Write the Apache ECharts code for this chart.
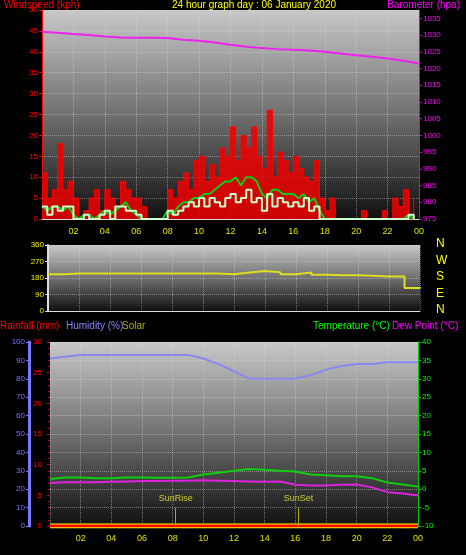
<!DOCTYPE html>
<html><head><meta charset="utf-8">
<script src="https://cdn.jsdelivr.net/npm/echarts@6/dist/echarts.min.js"></script>
<style>html,body{margin:0;background:#000}#c{width:466px;height:555px}</style>
</head><body><div id="c"></div>
<script>
// 20-minute samples for wind, hourly for the rest
const gust = [11,5,7, 18,7,9, 5,0,2, 5,7,2, 7,5,3, 9,7,5, 5,3,0, 0,0,0, 7,5,9, 11,7,14, 15,9,13, 10,17,15,
  22,14,20, 17,22,15, 12,26,10, 16,14,11, 15,12,10, 9,14,5, 2,5,0, 0,0,0, 0,2,0, 0,0,2, 0,5,3, 7,0,5];
const windAvg = [3,2,3, 3,2,3, 1,0,1, 1,0,1, 2,1,2, 3,4,2, 1,0,0, 0,0,0, 2,1,3, 4,4,5, 5,6,6, 7,8,9,
  9,10,8, 10,10,9, 6,5,7, 7,6,6, 6,5,6, 4,5,2, 0,0,0, 0,0,0, 0,0,0, 0,0,0, 0,0,0, 0,1,0];
const windSpd = [3,1,3, 2,3,3, 0,0,1, 0,0,1, 2,0,3, 3,2,2, 1,0,0, 0,0,0, 2,1,2, 3,4,3, 5,3,5, 4,3,5,
  6,4,5, 7,4,5, 2,6,3, 5,4,3, 4,3,5, 2,3,0, 0,0,0, 0,0,0, 0,0,0, 0,0,0, 0,0,0, 0,1,0];
const baro = [1031,1030.7,1030.3,1030,1029.6,1029.3,1029.2,1029.2,1029.1,1028.6,1028.3,1027.8,1027.1,
  1026.5,1026.1,1025.8,1025.6,1025.4,1025,1024.5,1024,1023.5,1023,1022.3,1021.5];
const windDir = [200,205,205,205,205,205,205,205,205,205,205,200,210,218,212,200,210,198,195,195,192,188,188,125,130];
const humidity = [91,92,93,93,93,93,93,93,93,93,91,88,84,80,80,80,80,82,85,87,88,88,89,89,89];
const temperature = [2.8,3.2,3.2,3,3,3.2,3.2,3.1,3.1,3.2,4,4.5,5,5.5,5.3,5,4.8,4,3.8,3.5,3.5,3,1.8,1.3,0.7];
const dewPoint = [1.7,1.9,1.9,1.9,2.0,2.1,2.2,2.2,2.3,2.3,2.4,2.3,2.2,2.1,2,2.1,1.2,1,1,1.2,1.3,0.5,-0.8,-1.2,-1.7];
const rainfall = [0,0,0,0,0,0,0,0,0,0,0,0,0,0,0,0,0,0,0,0,0,0,0,0,0];
const solar = [0,0,0,0,0,0,0,0,0,0,0,0,0,0,0,0,0,0,0,0,0,0,0,0,0];
const dirLetters = ['N','W','S','E','N'];

const pts20 = a => a.map((v, i) => [i / 3, v]);
const ptsH = a => a.map((v, i) => [i, v]);
const pad = v => { v = v % 24; return (v < 10 ? '0' : '') + v; };
const F = 'Liberation Sans';
const bg = {type: 'linear', x: 0, y: 0, x2: 0, y2: 1,
  colorStops: [{offset: 0, color: '#c8c8c8'}, {offset: 0.5, color: '#707070'}, {offset: 1, color: '#101010'}]};
const split = {show: true, lineStyle: {color: 'rgba(220,220,220,0.45)', type: 'dotted'}};
const xAx = (gi, show) => ({type: 'value', gridIndex: gi, min: 0, max: 24, interval: 2,
  axisLine: {show: true, lineStyle: {color: '#ddd'}}, axisTick: {show: false}, splitLine: split,
  axisLabel: {show: show, color: '#e0e000', fontFamily: F, fontSize: 9, showMinLabel: false,
    formatter: v => pad(v)}});
const yAx = (gi, o) => Object.assign({type: 'value', gridIndex: gi, splitLine: {show: false},
  axisTick: {show: true, length: 3}}, o);
const lbl = c => ({color: c, fontFamily: F, fontSize: 8, margin: 4, formatter: v => String(v)});

const chart = echarts.init(document.getElementById('c'));
chart.setOption({
  backgroundColor: '#000',
  animation: false,
  grid: [
    {left: 42, right: 47, top: 10, height: 209, show: true, backgroundColor: bg, borderWidth: 0},
    {left: 48, right: 46, top: 245, height: 66, show: true, backgroundColor: bg, borderWidth: 0},
    {left: 50, right: 48, top: 342, height: 184, show: true, backgroundColor: bg, borderWidth: 0}
  ],
  graphic: [
    {type: 'text', left: 4, top: 0, style: {text: 'Windspeed (kph)', fill: '#f00', font: '10px ' + F}},
    {type: 'text', left: 172, top: 0, style: {text: '24 hour graph day : 06 January 2020', fill: '#ff0', font: '10px ' + F}},
    {type: 'text', right: 6, top: 0, style: {text: 'Barometer (hpa)', fill: '#f0f', font: '10px ' + F}},
    {type: 'text', left: 0, top: 321, style: {text: 'Rainfall (mm)', fill: '#f00', font: '10px ' + F}},
    {type: 'text', left: 66, top: 321, style: {text: 'Humidity (%)', fill: '#88f', font: '10px ' + F}},
    {type: 'text', left: 122, top: 321, style: {text: 'Solar', fill: '#aa0', font: '10px ' + F}},
    {type: 'text', left: 313, top: 321, style: {text: 'Temperature (°C)', fill: '#0f0', font: '10px ' + F}},
    {type: 'text', left: 392, top: 321, style: {text: 'Dew Point (°C)', fill: '#f0f', font: '10px ' + F}}
  ].concat(dirLetters.map((t, i) => ({type: 'text', left: 436, top: 238 + i * 16.5,
    style: {text: t, fill: '#ff0', font: '12px ' + F}}))),
  xAxis: [xAx(0, true), xAx(1, false), xAx(2, true)],
  yAxis: [
    yAx(0, {min: 0, max: 50, interval: 5, axisLine: {show: true, lineStyle: {color: '#f00'}},
      axisLabel: lbl('#f00'), splitLine: split}),
    yAx(0, {position: 'right', min: 975, max: 1037.5, interval: 5, axisLine: {show: true, lineStyle: {color: '#c0c'}},
      axisLabel: Object.assign(lbl('#f0f'), {showMaxLabel: false})}),
    yAx(1, {min: 0, max: 360, interval: 90, axisLine: {show: true, lineStyle: {color: '#ddd', width: 2}},
      axisLabel: lbl('#ee0'), splitLine: split}),
    yAx(2, {position: 'left', min: 0, max: 30, interval: 5, offset: 4, axisLine: {show: false},
      axisTick: {show: true, length: 3, lineStyle: {color: '#c00'}},
      minorTick: {show: true, splitNumber: 5, length: 2, lineStyle: {color: '#c00'}}, axisLabel: lbl('#f00')}),
    yAx(2, {position: 'left', min: 0, max: 100, interval: 10, offset: 21,
      axisLine: {show: true, lineStyle: {color: '#77f', width: 3}}, axisLabel: lbl('#77f')}),
    yAx(2, {position: 'right', min: -10, max: 40, interval: 5, axisLine: {show: true, lineStyle: {color: '#0c0'}},
      axisLabel: lbl('#0f0'), splitLine: split})
  ],
  series: [
    {type: 'line', step: 'end', xAxisIndex: 0, yAxisIndex: 0, data: pts20(gust), symbol: 'none',
      lineStyle: {color: '#f00', width: 1}, areaStyle: {color: '#e00', opacity: 0.85}},
    {type: 'line', xAxisIndex: 0, yAxisIndex: 0, data: pts20(windAvg), symbol: 'none',
      lineStyle: {color: '#1c1', width: 2}},
    {type: 'line', step: 'end', xAxisIndex: 0, yAxisIndex: 0, data: pts20(windSpd), symbol: 'none',
      lineStyle: {color: '#cfc', width: 2}},
    {type: 'line', xAxisIndex: 0, yAxisIndex: 1, data: ptsH(baro), symbol: 'none',
      lineStyle: {color: '#e2e', width: 2}},
    {type: 'line', step: 'end', xAxisIndex: 1, yAxisIndex: 2, data: ptsH(windDir), symbol: 'none',
      lineStyle: {color: '#dd2', width: 2}},
    {type: 'line', xAxisIndex: 2, yAxisIndex: 4, data: ptsH(humidity), symbol: 'none',
      lineStyle: {color: '#88e', width: 2}},
    {type: 'line', xAxisIndex: 2, yAxisIndex: 5, data: ptsH(temperature), symbol: 'none',
      lineStyle: {color: '#1c1', width: 2}},
    {type: 'line', xAxisIndex: 2, yAxisIndex: 5, data: ptsH(dewPoint), symbol: 'none',
      lineStyle: {color: '#d2d', width: 2}},
    {type: 'line', xAxisIndex: 2, yAxisIndex: 4, data: ptsH(solar), symbol: 'none',
      lineStyle: {color: '#ff0', width: 5}},
    {type: 'line', xAxisIndex: 2, yAxisIndex: 3, data: ptsH(rainfall), symbol: 'none',
      lineStyle: {color: '#f00', width: 3},
      markLine: {symbol: 'none', silent: true,
        lineStyle: {color: '#aa0', type: 'solid', width: 1},
        label: {position: 'end', color: '#cc3', fontFamily: F, fontSize: 9},
        data: [
          [{coord: [8.2, 0], name: 'SunRise'}, {coord: [8.2, 3]}],
          [{coord: [16.2, 0], name: 'SunSet'}, {coord: [16.2, 3]}]
        ]}}
  ]
});
</script></body></html>
